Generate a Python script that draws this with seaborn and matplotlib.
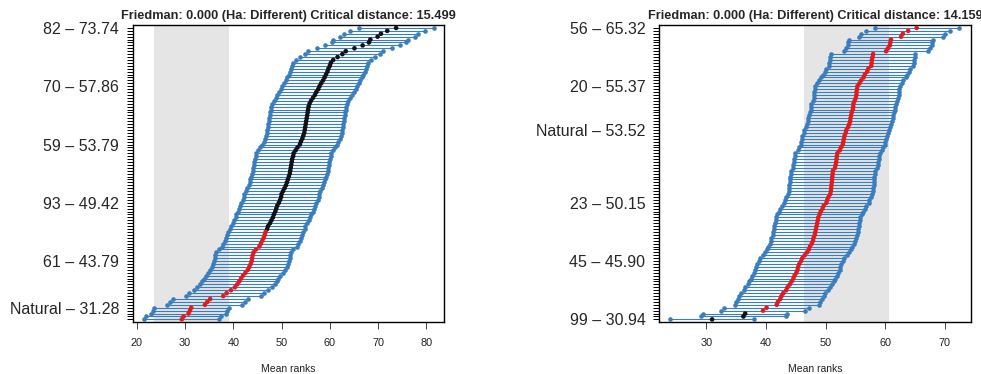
import numpy as np
import pandas as pd
import matplotlib
matplotlib.use("Agg")
import matplotlib.pyplot as plt
import seaborn as sns

# ---- data (mean ranks, ordered top row -> bottom row) ----
left_means = [
    73.74, 71.90, 70.60, 69.90, 68.40, 68.10, 66.80, 65.10, 63.30, 62.60,
    61.60, 60.70, 60.20, 60.00, 59.70, 59.50, 59.20, 58.90, 58.60, 58.20,
    57.86, 57.60, 57.20, 56.90, 56.50, 56.10, 55.80, 55.60, 55.50, 55.40,
    55.30, 55.20, 55.10, 55.00, 54.90, 54.80, 54.70, 54.50, 54.30, 54.00,
    53.79, 53.30, 52.90, 52.50, 52.40, 52.20, 52.10, 52.00, 51.90, 51.80,
    51.70, 51.50, 51.30, 51.10, 50.90, 50.60, 50.30, 50.00, 49.90, 49.70,
    49.42, 49.10, 48.90, 48.70, 48.40, 48.20, 47.90, 47.60, 47.20, 47.00,
    46.70, 46.50, 46.30, 46.00, 45.70, 45.40, 44.70, 44.20, 44.00, 43.90,
    43.79, 43.60, 43.30, 43.00, 42.50, 42.00, 41.60, 41.20, 40.80, 40.30,
    39.50, 38.60, 37.90, 35.20, 34.60, 34.10, 31.28, 31.00, 30.70, 29.70,
    29.30]
right_means = [
    65.32, 63.90, 63.00, 62.70, 61.00, 60.90, 60.80, 60.50, 60.17, 58.00,
    57.90, 57.80, 57.75, 57.70, 57.20, 57.00, 56.60, 56.40, 56.00, 55.70,
    55.37, 55.30, 55.20, 55.20, 55.10, 54.90, 54.70, 54.65, 54.60, 54.40,
    54.30, 54.20, 54.15, 54.00, 53.80, 53.52, 53.40, 53.20, 53.10, 53.00,
    52.90, 52.60, 52.40, 52.00, 51.90, 51.85, 51.80, 51.70, 51.60, 51.25,
    51.20, 51.15, 51.10, 51.05, 51.00, 50.95, 50.90, 50.80, 50.50, 50.30,
    50.15, 49.70, 49.50, 49.20, 49.00, 48.80, 48.70, 48.60, 48.50, 48.40,
    48.30, 48.20, 48.00, 47.90, 47.70, 47.40, 47.20, 46.90, 46.50, 46.10,
    45.90, 45.60, 45.40, 45.30, 45.10, 44.80, 44.60, 44.30, 44.00, 43.60,
    43.40, 42.90, 42.60, 42.40, 42.00, 41.80, 40.10, 39.50, 36.50, 36.20,
    30.94]
left_label_rows = [0, 20, 40, 60, 80, 96]
left_label_names = ["82", "70", "59", "93", "61", "Natural"]
right_label_rows = [0, 20, 35, 60, 80, 100]
right_label_names = ["56", "20", "Natural", "23", "45", "99"]
left_cd = 15.499
right_cd = 14.159
friedman_p = 0.000
focus_name = "Natural"
left_xticks = [20, 30, 40, 50, 60, 70, 80]
right_xticks = [30, 40, 50, 60, 70]

sns.set_theme(style="ticks")
plt.rcParams['font.family'] = ['Liberation Sans', 'DejaVu Sans']

BLUE = "#3A7DBE"
RED = "#E31A1C"

fig = plt.figure(figsize=(9.81, 3.74), dpi=100)
ax_l = fig.add_axes([133 / 981, 51.7 / 374, 310.7 / 981, 297.3 / 374])
ax_r = fig.add_axes([659.3 / 981, 51.7 / 374, 311.4 / 981, 297.3 / 374])


def panel(ax, means, label_rows, label_names, cd, xticks, xlim):
    n = len(means)
    ypos = np.arange(n)[::-1].astype(float)
    df = pd.DataFrame({"mean": means, "y": ypos})
    df["lo"] = df["mean"] - cd / 2
    df["hi"] = df["mean"] + cd / 2
    focus_row = label_rows[label_names.index(focus_name)]
    focus_mean = means[focus_row]
    df["same"] = (df["mean"] - focus_mean).abs() < cd

    ax.axvspan(focus_mean - cd / 2, focus_mean + cd / 2, color="#E5E5E5", lw=0, zorder=0)
    ax.hlines(df["y"], df["lo"], df["hi"], color=BLUE, lw=0.8, zorder=1)
    ends = pd.concat([
        df[["lo", "y"]].rename(columns={"lo": "x"}),
        df[["hi", "y"]].rename(columns={"hi": "x"}),
    ], ignore_index=True)
    sns.scatterplot(data=ends, x="x", y="y", color=BLUE, s=11, linewidth=0,
                    ax=ax, zorder=2)
    sns.scatterplot(data=df, x="mean", y="y", hue="same",
                    palette={True: RED, False: "#111111"}, s=11, linewidth=0,
                    ax=ax, zorder=3, legend=False)

    labels = [""] * n
    for r, nm in zip(label_rows, label_names):
        labels[r] = f"{nm} \u2013 {means[r]:.2f}"
    ax.set_yticks(ypos)
    ax.set_yticklabels(labels, fontsize=11.5)
    ax.tick_params(axis="y", left=True, length=4.5, width=0.7, direction="out",
                   pad=5.5, color="black")
    ticks = ax.yaxis.get_major_ticks()
    for r in label_rows:
        ticks[r].tick1line.set_color(RED)
        ticks[r].tick1line.set_zorder(5)

    ax.set_xticks(xticks)
    ax.set_xticklabels([str(t) for t in xticks], fontsize=7.8, color="#222222")
    ax.tick_params(axis="x", bottom=True, length=5, width=0.7, direction="out",
                   pad=6, color="#444444")
    ax.set_xlim(*xlim)
    ax.set_ylim(-1, n)
    ax.set_xlabel("Mean ranks", fontsize=7.5, labelpad=12, color="#222222")
    ax.set_ylabel("")
    for sp in ax.spines.values():
        sp.set_visible(True)
        sp.set_color("black")
        sp.set_linewidth(1.0)
    ax.set_title(f"Friedman: {friedman_p:.3f} (Ha: Different) Critical distance: {cd:.3f}",
                 fontsize=9.2, fontweight="bold", pad=4)


panel(ax_l, left_means, left_label_rows, left_label_names, left_cd, left_xticks, (19.2, 83.6))
panel(ax_r, right_means, right_label_rows, right_label_names, right_cd, right_xticks, (22.07, 74.4))

fig.savefig("out.png", dpi=100)
